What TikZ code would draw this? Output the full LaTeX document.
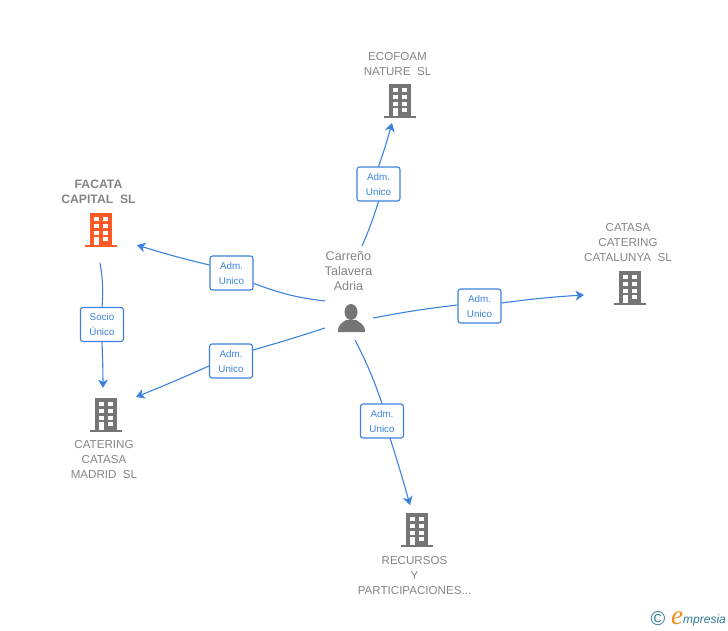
\documentclass[tikz,border=0pt]{standalone}
\usepackage{fontspec}
\setmainfont{Liberation Sans}
\newfontfamily\logoe{Liberation Serif}
\usetikzlibrary{arrows.meta}
\definecolor{linkblue}{HTML}{3B82E0}
\definecolor{bldgray}{HTML}{757575}
\definecolor{txtgray}{HTML}{858585}
\definecolor{bldorange}{HTML}{FF5A26}
\definecolor{logoteal}{HTML}{2F7C96}
\definecolor{logoorange}{HTML}{F08A1D}
\tikzset{
	link/.style={draw=linkblue, line width=1.1pt},
	linkarrow/.style={link, -{Stealth[length=8.5pt,width=10pt,inset=2.5pt]}},
	role/.style={draw=linkblue, line width=1.1pt, rounded corners=2.5pt, fill=white, text=linkblue, minimum width=43pt, minimum height=34pt, inner sep=0pt, align=center, font=\fontsize{9.8}{15}\selectfont},
	company/.style={text=txtgray, align=center, inner sep=0pt, font=\fontsize{11.6}{15}\selectfont},
	pics/building/.style={code={
		\fill[#1] (-11,-34) rectangle (11,-1);
		\fill[#1] (-16,-2) rectangle (16,0);
		\foreach \row in {-30,-23,-16} {
			\fill[white] (-7,\row) rectangle (-2,\row+4);
			\fill[white] (2,\row) rectangle (7,\row+4);
		}
		\fill[white] (-7,-10) rectangle (-2,-2);
		\fill[white] (2,-10) rectangle (7,-6);
	}}
}
\begin{document}
\begin{tikzpicture}[x=1pt, y=-1pt, line join=round]
	\useasboundingbox (0,0) rectangle (728,630);
	% edificios
	\pic at (400,118) {building=bldgray};
	\pic at (101,247) {building=bldorange};
	\pic at (106,432) {building=bldgray};
	\pic at (630,305) {building=bldgray};
	\pic at (417,547) {building=bldgray};
	% textos
	\node[company] (ecofoam) at (397.5,64) {ECOFOAM\\NATURE\ \ SL};
	\node[company, font=\fontsize{12.2}{15}\selectfont\bfseries] (facata) at (98.5,191.5) {FACATA\\CAPITAL\ \ SL};
	\node[company] (catering) at (104,459.5) {CATERING\\CATASA\\MADRID\ \ SL};
	\node[company] (catasa) at (628,242.5) {CATASA\\CATERING\\CATALUNYA\ \ SL};
	\node[company] (recursos) at (414.5,575.5) {RECURSOS\\Y\\PARTICIPACIONES...};
	\node[company, font=\fontsize{12.6}{15}\selectfont] (carreno) at (348.5,271.5) {Carreño\\Talavera\\Adria};
	% persona
	\fill[bldgray] (351,312) ellipse (6.5 and 8);
	\fill[bldgray] (338,332) .. controls (338,324) and (342,323) .. (346,320) -- (356,320) .. controls (360,323) and (365,324) .. (365,332) -- cycle;
	% etiquetas
	\node[role] (admeco) at (378.5,184) {Adm.\\Unico};
	\node[role] (admfac) at (231.5,273) {Adm.\\Unico};
	\node[role] (admcat) at (231,361) {Adm.\\Unico};
	\node[role] (admcta) at (479.5,306) {Adm.\\Unico};
	\node[role] (admrec) at (382,421) {Adm.\\Unico};
	\node[role] (socio) at (102,324.5) {Socio\\Único};
	% extremos
	\coordinate (pereco) at (362,246);
	\coordinate (perfac) at (325,301);
	\coordinate (percat) at (325,328);
	\coordinate (percta) at (373,318);
	\coordinate (perrec) at (355,340);
	\coordinate (faceco) at (392,123);
	\coordinate (facfac) at (137,245);
	\coordinate (faccat) at (136,397);
	\coordinate (faccta) at (584,295);
	\coordinate (facrec) at (410,505);
	\coordinate (socfac) at (100,263);
	\coordinate (soccat) at (103,388);
	\coordinate (recout) at (390,438);
	% enlaces
	\draw[link] (pereco) to[bend right=3] (admeco.south);
	\draw[linkarrow] (admeco.north) to[bend right=2] (faceco);
	\draw[link] (perfac) to[bend left=7] (admfac.-25);
	\draw[linkarrow] (admfac.west |- 0,265) to[bend left=2] (facfac);
	\draw[link] (percat) to[bend left=1] (admcat.east |- 0,350);
	\draw[linkarrow] (admcat.west |- 0,366) to[bend left=1] (faccat);
	\draw[link] (percta) to[bend left=2] (admcta.west |- 0,305);
	\draw[linkarrow] (admcta.east |- 0,303) to[bend left=2] (faccta);
	\draw[link] (perrec) to[bend left=4] (admrec.north);
	\draw[linkarrow] (recout) to[bend left=1] (facrec);
	\draw[link] (socfac) to[bend left=7] (socio.north);
	\draw[linkarrow] (socio.south) to[bend left=1] (soccat);
	% logo
	\node[text=logoteal, font=\fontsize{20}{20}\selectfont, inner sep=0pt] (logoc) at (658,619) {©};
	\node[text=logoorange, font=\fontsize{27}{27}\logoe\itshape, inner sep=0pt] (logoe) at (677,618) {e};
	\node[text=logoteal, font=\fontsize{12}{12}\selectfont\itshape, inner sep=0pt, anchor=west] (logot) at (683,620) {mpresia};
\end{tikzpicture}
\end{document}
